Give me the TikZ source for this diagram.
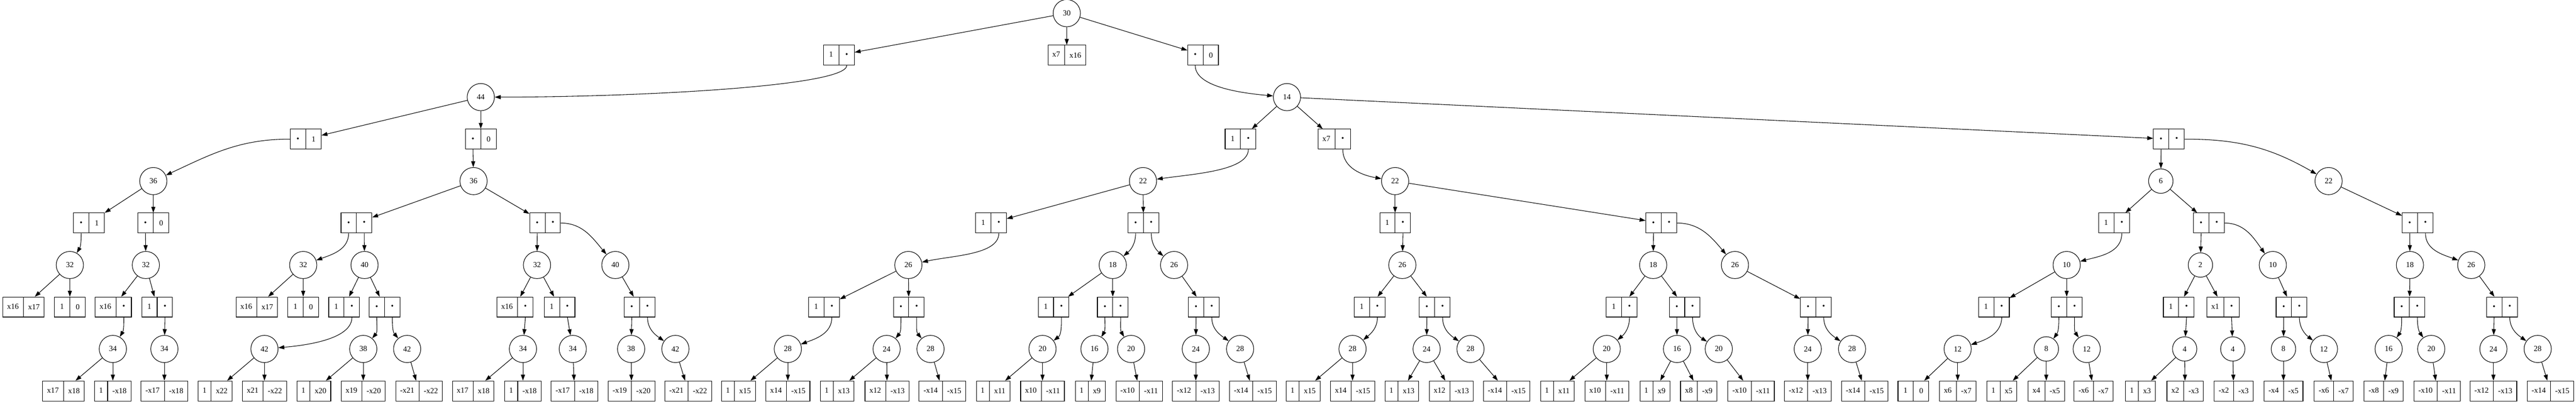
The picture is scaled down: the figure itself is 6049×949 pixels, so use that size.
\documentclass[tikz,border=0pt]{standalone}
\usepackage{fontspec}
\setmainfont{Liberation Serif}
\usetikzlibrary{shapes.multipart,arrows.meta}

\newcommand{\bu}{\makebox[14.7pt]{•}}
\newcommand{\sh}[1]{\makebox[14.7pt]{#1}}

\tikzset{
  cnode/.style={circle, draw, line width=1.3pt, minimum size=48pt, inner sep=15pt},
  rec/.style={rectangle split, rectangle split horizontal, rectangle split parts=2,
    draw, line width=1.3pt, inner xsep=10.4pt, inner ysep=15.5pt,
    text height=12.5pt, text depth=3.5pt},
  fe/.style={out=-90, out max distance=50pt},
}

\begin{document}
\begin{tikzpicture}[x=1pt, y=1pt, font=\fontsize{18.2pt}{22pt}\selectfont,
  every edge/.style={draw, line width=1.3pt, -{Triangle[length=14pt,width=9.5pt]}}]
\useasboundingbox (0,0) rectangle (6049,-949);

% level 0
\node[cnode] (c30) at (2505,-31) {30};
% level 1
\node[rec] (r30l) at (1970,-129.7) {\sh{1}\nodepart{two}\bu};
\node[rec] (r30m) at (2505,-129.7) {x7\nodepart{two}x16};
\node[rec] (r30r) at (2825,-129.7) {\bu\nodepart{two}\sh{0}};
% level 2
\node[cnode] (c44) at (1129,-228.3) {44};
\node[cnode] (c14) at (3022,-228.3) {14};
% level 3
\node[rec] (r44l) at (718,-327) {\bu\nodepart{two}\sh{1}};
\node[rec] (r44r) at (1129,-327) {\bu\nodepart{two}\sh{0}};
\node[rec] (r14l) at (2913,-327) {\sh{1}\nodepart{two}\bu};
\node[rec] (r14m) at (3133,-327) {x7\nodepart{two}\bu};
\node[rec] (r14r) at (5093,-327) {\bu\nodepart{two}\bu};
% level 4
\node[cnode] (c36a) at (360,-425.7) {36};
\node[cnode] (c36b) at (1112,-425.7) {36};
\node[cnode] (c22a) at (2684,-425.7) {22};
\node[cnode] (c22b) at (3276,-425.7) {22};
\node[cnode] (c6) at (5074,-425.7) {6};
\node[cnode] (c22c) at (5468,-425.7) {22};
% level 5
\node[rec] (r36al) at (209,-524.3) {\bu\nodepart{two}\sh{1}};
\node[rec] (r36ar) at (360,-524.3) {\bu\nodepart{two}\sh{0}};
\node[rec] (r36bl) at (837,-524.3) {\bu\nodepart{two}\bu};
\node[rec] (r36br) at (1280,-524.3) {\bu\nodepart{two}\bu};
\node[rec] (r22al) at (2327,-524.3) {\sh{1}\nodepart{two}\bu};
\node[rec] (r22ar) at (2685,-524.3) {\bu\nodepart{two}\bu};
\node[rec] (r22bl) at (3276,-524.3) {\sh{1}\nodepart{two}\bu};
\node[rec] (r22br) at (3901,-524.3) {\bu\nodepart{two}\bu};
\node[rec] (r6l) at (4964,-524.3) {\sh{1}\nodepart{two}\bu};
\node[rec] (r6r) at (5187,-524.3) {\bu\nodepart{two}\bu};
\node[rec] (r22cd) at (5677,-524.3) {\bu\nodepart{two}\bu};
% level 6
\node[cnode] (c32a) at (164,-623) {32};
\node[cnode] (c32b) at (342.5,-623) {32};
\node[cnode] (c32c) at (712,-623) {32};
\node[cnode] (c40a) at (856,-623) {40};
\node[cnode] (c32d) at (1261,-623) {32};
\node[cnode] (c40b) at (1445,-623) {40};
\node[cnode] (c26a) at (2133,-623) {26};
\node[cnode] (c18a) at (2613,-623) {18};
\node[cnode] (c26b) at (2757,-623) {26};
\node[cnode] (c26c) at (3293,-623) {26};
\node[cnode] (c18b) at (3882,-623) {18};
\node[cnode] (c26d) at (4074,-623) {26};
\node[cnode] (c10a) at (4853,-623) {10};
\node[cnode] (c2) at (5167,-623) {2};
\node[cnode] (c10b) at (5337,-623) {10};
\node[cnode] (c18c) at (5659,-623) {18};
\node[cnode] (c26e) at (5803,-623) {26};
% level 7
\node[rec] (r32al) at (55,-721.7) {x16\nodepart{two}x17};
\node[rec] (r32ar) at (164,-721.7) {\sh{1}\nodepart{two}\sh{0}};
\node[rec] (r32bl) at (266,-721.7) {x16\nodepart{two}\bu};
\node[rec] (r32br) at (369,-721.7) {\sh{1}\nodepart{two}\bu};
\node[rec] (r32cl) at (603,-721.7) {x16\nodepart{two}x17};
\node[rec] (r32cr) at (712,-721.7) {\sh{1}\nodepart{two}\sh{0}};
\node[rec] (r40al) at (808,-721.7) {\sh{1}\nodepart{two}\bu};
\node[rec] (r40ar) at (903,-721.7) {\bu\nodepart{two}\bu};
\node[rec] (r32dl) at (1209,-721.7) {x16\nodepart{two}\bu};
\node[rec] (r32dr) at (1314,-721.7) {\sh{1}\nodepart{two}\bu};
\node[rec] (r40bd) at (1502,-721.7) {\bu\nodepart{two}\bu};
\node[rec] (r26al) at (1935,-721.7) {\sh{1}\nodepart{two}\bu};
\node[rec] (r26ar) at (2134,-721.7) {\bu\nodepart{two}\bu};
\node[rec] (r18al) at (2474,-721.7) {\sh{1}\nodepart{two}\bu};
\node[rec] (r18ar) at (2613,-721.7) {\bu\nodepart{two}\bu};
\node[rec] (r26bd) at (2827,-721.7) {\bu\nodepart{two}\bu};
\node[rec] (r26cl) at (3216,-721.7) {\sh{1}\nodepart{two}\bu};
\node[rec] (r26cr) at (3369,-721.7) {\bu\nodepart{two}\bu};
\node[rec] (r18bl) at (3808,-721.7) {\sh{1}\nodepart{two}\bu};
\node[rec] (r18br) at (3956,-721.7) {\bu\nodepart{two}\bu};
\node[rec] (r26dd) at (4264,-721.7) {\bu\nodepart{two}\bu};
\node[rec] (r10al) at (4682,-721.7) {\sh{1}\nodepart{two}\bu};
\node[rec] (r10ar) at (4853,-721.7) {\bu\nodepart{two}\bu};
\node[rec] (r2l) at (5116,-721.7) {\sh{1}\nodepart{two}\bu};
\node[rec] (r2r) at (5220,-721.7) {x1\nodepart{two}\bu};
\node[rec] (r10bd) at (5381,-721.7) {\bu\nodepart{two}\bu};
\node[rec] (r18cd) at (5658,-721.7) {\bu\nodepart{two}\bu};
\node[rec] (r26ed) at (5875,-721.7) {\bu\nodepart{two}\bu};
% level 8
\node[cnode] (c34a) at (265,-820.3) {34};
\node[cnode] (c34b) at (386,-820.3) {34};
\node[cnode] (c42a) at (621,-820.3) {42};
\node[cnode] (c38a) at (853,-820.3) {38};
\node[cnode] (c42b) at (956,-820.3) {42};
\node[cnode] (c34c) at (1228,-820.3) {34};
\node[cnode] (c34d) at (1345,-820.3) {34};
\node[cnode] (c38b) at (1482,-820.3) {38};
\node[cnode] (c42c) at (1586,-820.3) {42};
\node[cnode] (c28a) at (1850,-820.3) {28};
\node[cnode] (c24a) at (2082,-820.3) {24};
\node[cnode] (c28b) at (2185,-820.3) {28};
\node[cnode] (c20a) at (2448,-820.3) {20};
\node[cnode] (c16a) at (2570,-820.3) {16};
\node[cnode] (c20b) at (2656,-820.3) {20};
\node[cnode] (c24b) at (2808,-820.3) {24};
\node[cnode] (c28c) at (2912,-820.3) {28};
\node[cnode] (c28d) at (3176,-820.3) {28};
\node[cnode] (c24c) at (3350,-820.3) {24};
\node[cnode] (c28e) at (3453,-820.3) {28};
\node[cnode] (c20c) at (3773,-820.3) {20};
\node[cnode] (c16b) at (3938,-820.3) {16};
\node[cnode] (c20d) at (4036,-820.3) {20};
\node[cnode] (c24d) at (4245,-820.3) {24};
\node[cnode] (c28f) at (4349,-820.3) {28};
\node[cnode] (c12a) at (4597,-820.3) {12};
\node[cnode] (c8a) at (4805,-820.3) {8};
\node[cnode] (c12b) at (4900,-820.3) {12};
\node[cnode] (c4a) at (5130,-820.3) {4};
\node[cnode] (c4b) at (5243,-820.3) {4};
\node[cnode] (c8b) at (5362,-820.3) {8};
\node[cnode] (c12c) at (5457,-820.3) {12};
\node[cnode] (c16c) at (5609,-820.3) {16};
\node[cnode] (c20e) at (5709,-820.3) {20};
\node[cnode] (c24e) at (5855,-820.3) {24};
\node[cnode] (c28g) at (5959,-820.3) {28};
% level 9
\node[rec] (r34al) at (149,-919) {x17\nodepart{two}x18};
\node[rec] (r34ar) at (265,-919) {1\nodepart{two}-x18};
\node[rec] (r34bd) at (386,-919) {-x17\nodepart{two}-x18};
\node[rec] (r42al) at (505,-919) {1\nodepart{two}x22};
\node[rec] (r42ar) at (621,-919) {x21\nodepart{two}-x22};
\node[rec] (r38al) at (737,-919) {1\nodepart{two}x20};
\node[rec] (r38ar) at (853,-919) {x19\nodepart{two}-x20};
\node[rec] (r42bd) at (984,-919) {-x21\nodepart{two}-x22};
\node[rec] (r34cl) at (1111,-919) {x17\nodepart{two}x18};
\node[rec] (r34cr) at (1228,-919) {1\nodepart{two}-x18};
\node[rec] (r34dd) at (1349,-919) {-x17\nodepart{two}-x18};
\node[rec] (r38bd) at (1483,-919) {-x19\nodepart{two}-x20};
\node[rec] (r42cd) at (1616,-919) {-x21\nodepart{two}-x22};
\node[rec] (r28al) at (1734,-919) {1\nodepart{two}x15};
\node[rec] (r28ar) at (1850,-919) {x14\nodepart{two}-x15};
\node[rec] (r24al) at (1966,-919) {1\nodepart{two}x13};
\node[rec] (r24ar) at (2083,-919) {x12\nodepart{two}-x13};
\node[rec] (r28bd) at (2213,-919) {-x14\nodepart{two}-x15};
\node[rec] (r20al) at (2332,-919) {1\nodepart{two}x11};
\node[rec] (r20ar) at (2448,-919) {x10\nodepart{two}-x11};
\node[rec] (r16ad) at (2560,-919) {1\nodepart{two}x9};
\node[rec] (r20bd) at (2675,-919) {-x10\nodepart{two}-x11};
\node[rec] (r24bd) at (2808,-919) {-x12\nodepart{two}-x13};
\node[rec] (r28cd) at (2942,-919) {-x14\nodepart{two}-x15};
\node[rec] (r28dl) at (3060,-919) {1\nodepart{two}x15};
\node[rec] (r28dr) at (3176,-919) {x14\nodepart{two}-x15};
\node[rec] (r24cl) at (3292,-919) {1\nodepart{two}x13};
\node[rec] (r24cr) at (3408,-919) {x12\nodepart{two}-x13};
\node[rec] (r28ed) at (3538,-919) {-x14\nodepart{two}-x15};
\node[rec] (r20cl) at (3657,-919) {1\nodepart{two}x11};
\node[rec] (r20cr) at (3773,-919) {x10\nodepart{two}-x11};
\node[rec] (r16bl) at (3886,-919) {1\nodepart{two}x9};
\node[rec] (r16br) at (3989,-919) {x8\nodepart{two}-x9};
\node[rec] (r20dd) at (4112,-919) {-x10\nodepart{two}-x11};
\node[rec] (r24dd) at (4245,-919) {-x12\nodepart{two}-x13};
\node[rec] (r28fd) at (4379,-919) {-x14\nodepart{two}-x15};
\node[rec] (r12al) at (4493,-919) {\sh{1}\nodepart{two}\sh{0}};
\node[rec] (r12ar) at (4597,-919) {x6\nodepart{two}-x7};
\node[rec] (r8al) at (4701,-919) {1\nodepart{two}x5};
\node[rec] (r8ar) at (4805,-919) {x4\nodepart{two}-x5};
\node[rec] (r12bd) at (4916,-919) {-x6\nodepart{two}-x7};
\node[rec] (r4al) at (5026,-919) {1\nodepart{two}x3};
\node[rec] (r4ar) at (5131,-919) {x2\nodepart{two}-x3};
\node[rec] (r4bd) at (5245,-919) {-x2\nodepart{two}-x3};
\node[rec] (r8bd) at (5362,-919) {-x4\nodepart{two}-x5};
\node[rec] (r12cd) at (5480,-919) {-x6\nodepart{two}-x7};
\node[rec] (r16cd) at (5597,-919) {-x8\nodepart{two}-x9};
\node[rec] (r20ed) at (5723,-919) {-x10\nodepart{two}-x11};
\node[rec] (r24ed) at (5855,-919) {-x12\nodepart{two}-x13};
\node[rec] (r28gd) at (5989,-919) {-x14\nodepart{two}-x15};

% edges, levels 0-4
\path (c30) edge (r30l) edge (r30m) edge (r30r);
\path (r30l.two south) edge[fe, in=0] (c44);
\path (r30r.one south) edge[fe, in=175] (c14);
\path (c44) edge (r44l) edge (r44r);
\path (c14) edge (r14l) edge (r14m) edge (r14r);
\path (r44l.west) edge[out=180, in=25] (c36a);
\path (r44r.one south) edge (c36b);
\path (r14l.two south) edge[fe, in=8] (c22a);
\path (r14m.two south) edge[fe, in=170] (c22b);
\path (r14r.one south) edge (c6);
\path (r14r.east) edge[out=0, in=150] (c22c);
% edges, levels 4-6
\path (c36a) edge (r36al) edge (r36ar);
\path (c36b) edge (r36bl) edge (r36br);
\path (c22a) edge (r22al) edge (r22ar);
\path (c22b) edge (r22bl) edge (r22br);
\path (c6) edge (r6l) edge (r6r);
\path (c22c) edge (r22cd);
\path (r36al.one south) edge[fe, in=60] (c32a);
\path (r36ar.one south) edge (c32b);
\path (r36bl.one south) edge[fe, in=20] (c32c) (r36bl.two south) edge (c40a);
\path (r36br.one south) edge (c32d) (r36br.east) edge[out=0, in=130] (c40b);
\path (r22al.two south) edge[fe, in=12] (c26a);
\path (r22ar.one south) edge[fe, in=40] (c18a) (r22ar.two south) edge[fe, in=140] (c26b);
\path (r22bl.two south) edge (c26c);
\path (r22br.one south) edge (c18b) (r22br.east) edge[out=0, in=130] (c26d);
\path (r6l.two south) edge[fe, in=15] (c10a);
\path (r6r.one south) edge (c2) (r6r.east) edge[out=0, in=125] (c10b);
\path (r22cd.one south) edge (c18c) (r22cd.two south) edge[fe, in=160] (c26e);
% edges, levels 6-8
\path (c32a) edge (r32al) edge (r32ar);
\path (c32b) edge (r32bl) edge (r32br);
\path (c32c) edge (r32cl) edge (r32cr);
\path (c40a) edge (r40al) edge (r40ar);
\path (c32d) edge (r32dl) edge (r32dr);
\path (c40b) edge (r40bd);
\path (c26a) edge (r26al) edge (r26ar);
\path (c18a) edge (r18al) edge (r18ar);
\path (c26b) edge (r26bd);
\path (c26c) edge (r26cl) edge (r26cr);
\path (c18b) edge (r18bl) edge (r18br);
\path (c26d) edge (r26dd);
\path (c10a) edge (r10al) edge (r10ar);
\path (c2) edge (r2l) edge (r2r);
\path (c10b) edge (r10bd);
\path (c18c) edge (r18cd);
\path (c26e) edge (r26ed);
\path (r32bl.two south) edge[fe, in=60] (c34a);
\path (r32br.two south) edge (c34b);
\path (r40al.two south) edge[fe, in=5] (c42a);
\path (r40ar.one south) edge[fe, in=50] (c38a) (r40ar.two south) edge[fe, in=130] (c42b);
\path (r32dl.two south) edge (c34c);
\path (r32dr.two south) edge (c34d);
\path (r40bd.one south) edge (c38b) (r40bd.two south) edge[fe, in=145] (c42c);
\path (r26al.two south) edge[fe, in=20] (c28a);
\path (r26ar.one south) edge[fe, in=50] (c24a) (r26ar.two south) edge[fe, in=130] (c28b);
\path (r18al.two south) edge[fe, in=37] (c20a);
\path (r18ar.one south) edge[fe, in=60] (c16a) (r18ar.two south) edge[fe, in=120] (c20b);
\path (r26bd.one south) edge (c24b) (r26bd.two south) edge[fe, in=145] (c28c);
\path (r26cl.two south) edge[fe, in=40] (c28d);
\path (r26cr.one south) edge (c24c) (r26cr.two south) edge[fe, in=146] (c28e);
\path (r18bl.two south) edge[fe, in=40] (c20c);
\path (r18br.one south) edge (c16b) (r18br.two south) edge[fe, in=148] (c20d);
\path (r26dd.one south) edge (c24d) (r26dd.two south) edge[fe, in=146] (c28f);
\path (r10al.two south) edge[fe, in=18] (c12a);
\path (r10ar.one south) edge[fe, in=55] (c8a) (r10ar.two south) edge[fe, in=125] (c12b);
\path (r2l.two south) edge (c4a);
\path (r2r.two south) edge (c4b);
\path (r10bd.one south) edge (c8b) (r10bd.two south) edge[fe, in=142] (c12c);
\path (r18cd.one south) edge[fe, in=55] (c16c) (r18cd.two south) edge[fe, in=125] (c20e);
\path (r26ed.one south) edge (c24e) (r26ed.two south) edge[fe, in=145] (c28g);
% edges, levels 8-9
\path (c34a) edge (r34al) edge (r34ar);
\path (c34b) edge (r34bd);
\path (c42a) edge (r42al) edge (r42ar);
\path (c38a) edge (r38al) edge (r38ar);
\path (c42b) edge (r42bd);
\path (c34c) edge (r34cl) edge (r34cr);
\path (c34d) edge (r34dd);
\path (c38b) edge (r38bd);
\path (c42c) edge (r42cd);
\path (c28a) edge (r28al) edge (r28ar);
\path (c24a) edge (r24al) edge (r24ar);
\path (c28b) edge (r28bd);
\path (c20a) edge (r20al) edge (r20ar);
\path (c16a) edge (r16ad);
\path (c20b) edge (r20bd);
\path (c24b) edge (r24bd);
\path (c28c) edge (r28cd);
\path (c28d) edge (r28dl) edge (r28dr);
\path (c24c) edge (r24cl) edge (r24cr);
\path (c28e) edge (r28ed);
\path (c20c) edge (r20cl) edge (r20cr);
\path (c16b) edge (r16bl) edge (r16br);
\path (c20d) edge (r20dd);
\path (c24d) edge (r24dd);
\path (c28f) edge (r28fd);
\path (c12a) edge (r12al) edge (r12ar);
\path (c8a) edge (r8al) edge (r8ar);
\path (c12b) edge (r12bd);
\path (c4a) edge (r4al) edge (r4ar);
\path (c4b) edge (r4bd);
\path (c8b) edge (r8bd);
\path (c12c) edge (r12cd);
\path (c16c) edge (r16cd);
\path (c20e) edge (r20ed);
\path (c24e) edge (r24ed);
\path (c28g) edge (r28gd);
\end{tikzpicture}
\end{document}
